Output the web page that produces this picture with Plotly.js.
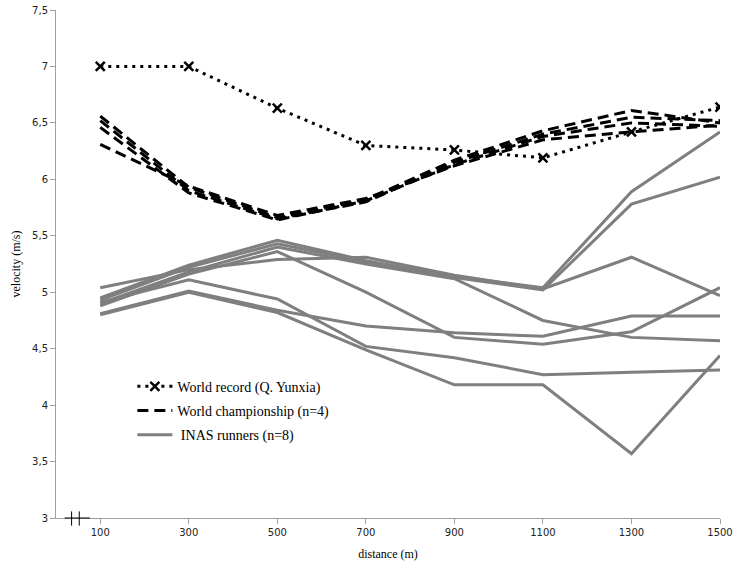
<!DOCTYPE html>
<html>
<head>
<meta charset="utf-8">
<script src="https://cdn.plot.ly/plotly-3.0.1.min.js"></script>
<style>
  html, body { margin: 0; padding: 0; background: #fff; }
  #chart { width: 735px; height: 569px; }
</style>
</head>
<body>
<div id="chart"></div>
<script>
// distance points (m)
const distance = [100, 300, 500, 700, 900, 1100, 1300, 1500];

// world record, Q. Yunxia
const worldRecord = [7.00, 7.00, 6.63, 6.30, 6.26, 6.19, 6.42, 6.64];

// world championship finalists (n=4)
const wc1 = [6.56, 5.93, 5.66, 5.82, 6.17, 6.43, 6.61, 6.50];
const wc2 = [6.52, 5.90, 5.65, 5.80, 6.15, 6.40, 6.55, 6.52];
const wc3 = [6.46, 5.88, 5.64, 5.81, 6.13, 6.38, 6.50, 6.47];
const wc4 = [6.31, 5.94, 5.68, 5.83, 6.12, 6.35, 6.42, 6.48];

// INAS runners (n=8)
const inas1 = [5.04, 5.20, 5.29, 5.31, 5.15, 5.03, 5.31, 4.97];
const inas2 = [4.95, 5.24, 5.46, 5.28, 5.14, 5.04, 5.89, 6.42];
const inas3 = [4.93, 5.22, 5.43, 5.27, 5.13, 5.02, 5.78, 6.02];
const inas4 = [4.90, 5.18, 5.40, 5.25, 5.12, 4.75, 4.60, 4.57];
const inas5 = [4.88, 5.16, 5.36, 5.00, 4.60, 4.54, 4.65, 5.04];
const inas6 = [4.91, 5.11, 4.94, 4.52, 4.42, 4.27, 4.29, 4.31];
const inas7 = [4.81, 5.01, 4.84, 4.70, 4.64, 4.61, 4.79, 4.79];
const inas8 = [4.80, 5.00, 4.82, 4.49, 4.18, 4.18, 3.57, 4.44];

const yTicks = [3, 3.5, 4, 4.5, 5, 5.5, 6, 6.5, 7, 7.5];

const inasRuns = [inas1, inas2, inas3, inas4, inas5, inas6, inas7, inas8];
const wcRuns = [wc1, wc2, wc3, wc4];

let traces = [];

inasRuns.forEach((v, i) => {
  traces.push({
    x: distance, y: v, mode: 'lines', type: 'scatter',
    name: ' INAS runners (n=8)', legendgroup: 'inas', legendrank: 3,
    showlegend: i === 0,
    line: {color: '#7f7f7f', width: 3}
  });
});

wcRuns.forEach((v, i) => {
  traces.push({
    x: distance, y: v, mode: 'lines', type: 'scatter',
    name: 'World championship (n=4)', legendgroup: 'wc', legendrank: 2,
    showlegend: i === 0,
    line: {color: '#000', width: 3, dash: '11px,6px'}
  });
});

traces.push({
  x: distance, y: worldRecord, mode: 'lines+markers', type: 'scatter',
  name: 'World record (Q. Yunxia)', legendrank: 1,
  line: {color: '#000', width: 3, dash: '3px,5px'},
  marker: {symbol: 'x-thin', size: 9, line: {color: '#000', width: 2.5}, color: '#000'}
});

const layout = {
  width: 735, height: 569,
  margin: {l: 56, r: 15, t: 10, b: 51},
  paper_bgcolor: '#fff', plot_bgcolor: '#fff',
  separators: ', ',
  showlegend: true,
  legend: {
    x: 0.115, y: 0.29, xanchor: 'left', yanchor: 'top',
    bgcolor: 'rgba(0,0,0,0)', tracegroupgap: 3, itemwidth: 35,
    font: {family: 'Liberation Serif', size: 14, color: '#000'}
  },
  xaxis: {
    range: [0, 1500], tickvals: distance, ticktext: distance.map(String),
    showgrid: false, zeroline: false,
    showline: true, linecolor: '#a0a0a0', linewidth: 1,
    ticks: 'outside', ticklen: 5, tickcolor: '#a0a0a0',
    tickfont: {family: 'DejaVu Sans', size: 10, color: '#222'},
    title: {text: 'distance (m)', standoff: 12,
            font: {family: 'Liberation Serif', size: 12, color: '#000'}}
  },
  yaxis: {
    range: [3, 7.5], tickvals: yTicks,
    showgrid: false, zeroline: false,
    showline: true, linecolor: '#a0a0a0', linewidth: 1,
    ticks: 'outside', ticklen: 5, tickcolor: '#a0a0a0',
    tickfont: {family: 'DejaVu Sans', size: 10, color: '#222'},
    title: {text: 'velocity (m/s)', standoff: 8,
            font: {family: 'Liberation Serif', size: 12, color: '#000'}}
  },
  shapes: [
    // axis break mark
    {type: 'line', xref: 'paper', yref: 'paper', x0: 0.013, x1: 0.051, y0: 0, y1: 0,
     line: {color: '#000', width: 1}},
    {type: 'line', xref: 'paper', yref: 'paper', x0: 0.0235, x1: 0.0235, y0: -0.015, y1: 0.013,
     line: {color: '#000', width: 1}},
    {type: 'line', xref: 'paper', yref: 'paper', x0: 0.035, x1: 0.035, y0: -0.015, y1: 0.013,
     line: {color: '#000', width: 1}}
  ]
};

Plotly.newPlot('chart', traces, layout, {displayModeBar: false, staticPlot: true});
</script>
</body>
</html>
